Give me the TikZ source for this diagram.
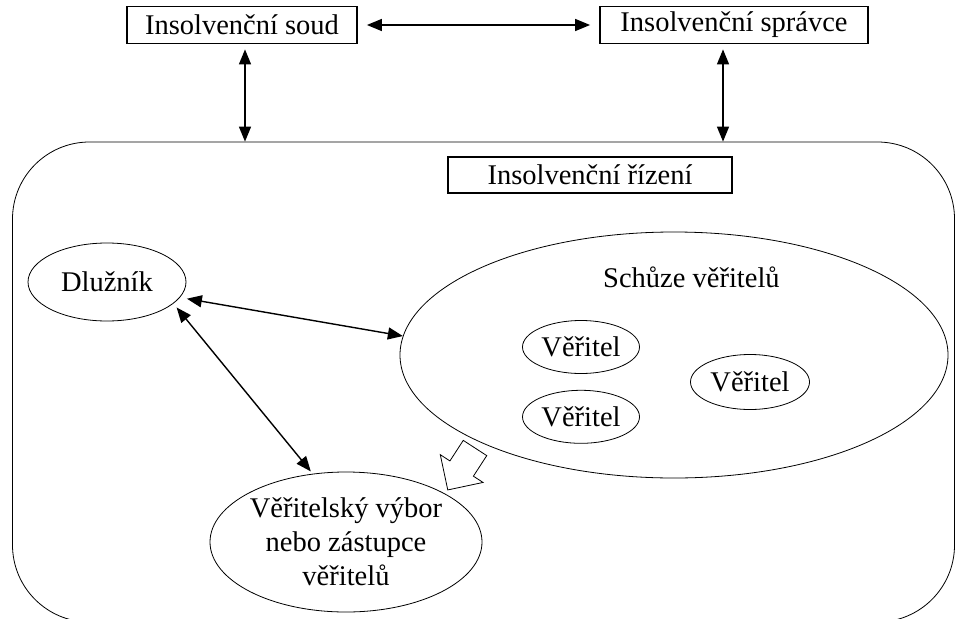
\documentclass[tikz,border=0pt]{standalone}
\usepackage{fontspec}
\setmainfont{Liberation Serif}
\usetikzlibrary{positioning, arrows.meta, shapes.geometric}

\begin{document}
\begin{tikzpicture}[
    x=1pt, y=-1pt,
    font=\fontsize{28.5}{34}\selectfont,
    % framed titles of the parties
    titlebox/.style={
        rectangle,
        draw=black,
        line width=1.8pt,
        minimum height=37pt,
        inner sep=0pt,
        align=center
    },
    % ovals inside the proceeding
    partyoval/.style={
        ellipse,
        draw=black,
        line width=0.8pt,
        inner sep=0pt,
        align=center
    },
    link/.style={
        {Triangle[length=15pt,width=12pt]}-{Triangle[length=15pt,width=12pt]},
        line width=1.4pt,
        black
    }
]
    \useasboundingbox (0,0) rectangle (957,618);
    \clip (0,0) rectangle (957,618);

    % Frame of the proceeding
    \node[draw, line width=0.8pt, rounded corners=77pt, minimum width=942pt, minimum height=480pt, inner sep=0pt] (proceeding) at (483.5,382) {};

    % Nodes
    \node[titlebox, minimum width=230pt] (court) at (242,25) {Insolvenční soud};
    \node[titlebox, minimum width=268pt] (trustee) at (734,25) {Insolvenční správce};
    \node[titlebox, minimum width=284pt, minimum height=36pt] (procname) at (590,175) {Insolvenční řízení};

    \node[partyoval, minimum width=158pt, minimum height=78pt] (debtor) at (107,282) {Dlužník};

    \node[partyoval, minimum width=548pt, minimum height=246pt] (meeting) at (674,355) {};
    \node[anchor=base west, inner sep=0pt] (meetinglbl) at (603,287) {Schůze věřitelů};
    \node[partyoval, minimum width=117pt, minimum height=53pt] (creditorA) at (581,347) {Věřitel};
    \node[partyoval, minimum width=117pt, minimum height=53pt, below=16pt of creditorA] (creditorB) {Věřitel};
    \node[partyoval, minimum width=119pt, minimum height=55pt] (creditorC) at (750,382) {Věřitel};

    \node[partyoval, minimum width=272pt, minimum height=140pt] (committee) at (346,542) {Věřitelský výbor\\nebo zástupce\\věřitelů};

    % Edges
    \draw[link, shorten <=9pt, shorten >=9pt] (court.east) -- (trustee.west);
    \draw[link, shorten <=5pt] ([xshift=3pt]court.south) -- ([xshift=3pt]court.south |- proceeding.north);
    \draw[link, shorten <=5pt] ([xshift=-11pt]trustee.south) -- ([xshift=-11pt]trustee.south |- proceeding.north);
    \draw[link, shorten <=7pt] (debtor.-12) -- (meeting.176);
    \draw[link, shorten <=5pt, shorten >=3pt] (debtor.-18) -- (committee.116);

    % hollow arrow from the meeting to the committee
    \begin{scope}[shift={(475,448)}, rotate=237]
        \draw[line width=0.8pt, fill=white] (0,14) -- (24.5,14) -- (24.5,25.5) -- (50,0) -- (24.5,-25.5) -- (24.5,-14) -- (0,-14) -- cycle;
    \end{scope}

\end{tikzpicture}
\end{document}
